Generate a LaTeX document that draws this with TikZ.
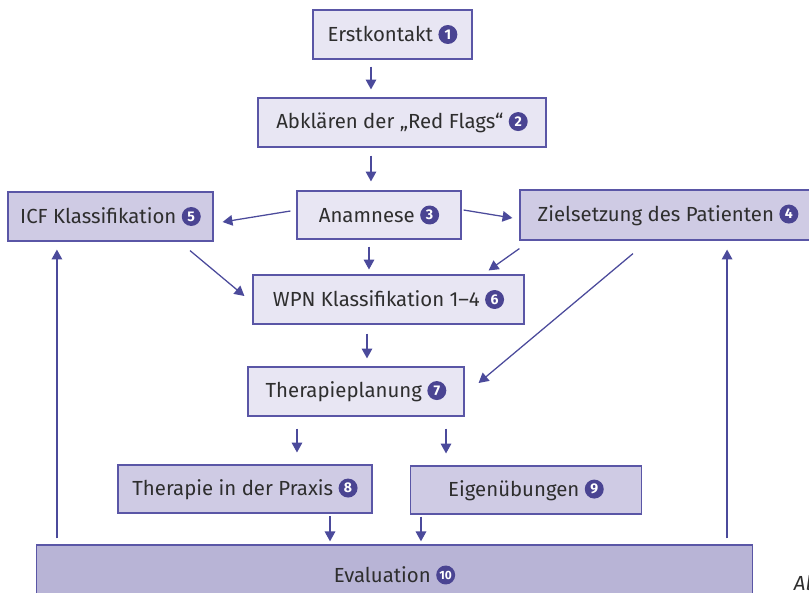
\documentclass[tikz,border=0pt]{standalone}
\usepackage{fontspec}
\setmainfont{Fira Sans}
\usetikzlibrary{arrows.meta}

\definecolor{boxlight}{HTML}{E8E6F3}
\definecolor{boxmid}{HTML}{CFCBE4}
\definecolor{boxdark}{HTML}{B8B4D6}
\definecolor{boxline}{HTML}{5A56A6}
\definecolor{arrowblue}{HTML}{4B4A9B}
\definecolor{numblue}{HTML}{4A4492}
\definecolor{textgray}{HTML}{2E2E2E}

% numbered dot behind each step
\newcommand{\stepnr}[1]{\tikz[baseline={([yshift=-5pt]c.center)}]\node[circle,fill=numblue,text=white,inner sep=0pt,minimum size=13.5pt,font=\bfseries\fontsize{10}{10}\selectfont](c){#1};}

\tikzset{
  stepbox/.style={draw=boxline, line width=0.8pt, text=textgray, font=\fontsize{14.5}{17}\selectfont, inner sep=0pt},
  light/.style={stepbox, fill=boxlight},
  mid/.style={stepbox, fill=boxmid},
  arr/.style={->, draw=arrowblue, line width=0.9pt}
}

\begin{document}
\begin{tikzpicture}[x=0.025cm, y=-0.025cm, >={Triangle[length=7pt,width=7.5pt]}]
\useasboundingbox (0,0) rectangle (809,592);

\node[light, minimum width=3.975cm, minimum height=1.225cm] (erst) at (392.5,34.5) {Erstkontakt \stepnr{1}};
\node[light, minimum width=7.2cm, minimum height=1.225cm] (abkl) at (402,122.5) {Abklären der „Red Flags“ \stepnr{2}};
\node[light, minimum width=4.1cm, minimum height=1.2cm] (anam) at (379,215) {Anamnese \stepnr{3}};
\node[mid, minimum width=5.125cm, minimum height=1.225cm] (icf) at (110.5,216.5) {ICF Klassifikation \stepnr{5}};
\node[mid, minimum width=7.4cm, minimum height=1.25cm] (ziel) at (668,215) {Zielsetzung des Patienten \stepnr{4}};
\node[light, minimum width=6.775cm, minimum height=1.225cm] (wpn) at (388.5,299.5) {WPN Klassifikation 1–4 \stepnr{6}};
\node[light, minimum width=5.4cm, minimum height=1.225cm] (plan) at (356,391.5) {Therapieplanung \stepnr{7}};
\node[mid, minimum width=6.35cm, minimum height=1.2cm] (prax) at (245,489) {Therapie in der Praxis \stepnr{8}};
\node[mid, minimum width=5.775cm, minimum height=1.2cm] (eig) at (526,490) {Eigenübungen \stepnr{9}};
\node[stepbox, fill=boxdark, minimum width=17.875cm, minimum height=1.5cm] (eval) at (394.5,575) {Evaluation \stepnr{\fontsize{8.5}{8.5}\selectfont 10}};

\node[anchor=base west, text=textgray, font=\itshape\fontsize{14.5}{17}\selectfont] (abb) at (789,590) {Ab};

% straight down
\draw[arr, shorten <=5pt, shorten >=5.7pt] ([xshift=-0.5375cm]erst.south) -- ([xshift=-0.5375cm]erst.south |- abkl.north);
\draw[arr, shorten <=5.7pt, shorten >=6.4pt] ([xshift=-0.775cm]abkl.south) -- ([xshift=-0.775cm]abkl.south |- anam.north);
\draw[arr, shorten <=5pt, shorten >=3.5pt] ([xshift=-0.25cm]anam.south) -- ([xshift=-0.25cm]anam.south |- wpn.north);
\draw[arr, shorten <=6.4pt, shorten >=5.7pt] ([xshift=-0.5375cm]wpn.south) -- ([xshift=-0.5375cm]wpn.south |- plan.north);
\draw[arr, shorten <=8.5pt, shorten >=8.5pt] ([xshift=-1.475cm]plan.south) -- ([xshift=-1.475cm]plan.south |- prax.north);
\draw[arr, shorten <=8.5pt, shorten >=8.5pt] ([xshift=2.25cm]plan.south) -- ([xshift=2.25cm]plan.south |- eig.north);
\draw[arr, shorten <=2pt, shorten >=2.2pt] ([xshift=2.125cm]prax.south) -- ([xshift=2.125cm]prax.south |- eval.north);
\draw[arr, shorten <=1.5pt, shorten >=2.2pt] ([xshift=-2.625cm]eig.south) -- ([xshift=-2.625cm]eig.south |- eval.north);

% sideways from Anamnese
\draw[arr] ([shift={(-6,-4)}]anam.west) -- ([shift={(9,5.5)}]icf.east);
\draw[arr] ([shift={(2,-5)}]anam.east) -- ([shift={(-7,3)}]ziel.west);

% into WPN and Therapieplanung
\draw[arr] ([shift={(79.5,9)}]icf.south) -- ([shift={(-8,-3.5)}]wpn.west);
\draw[arr] ([shift={(0,8)}]ziel.south west) -- ([shift={(-36,-4)}]wpn.north east);
\draw[arr] ([shift={(-35,13)}]ziel.south) -- ([shift={(14,-8.5)}]plan.east);

% back up from Evaluation
\draw[arr, shorten <=4.3pt, shorten >=5.7pt] ([xshift=-8.4375cm]eval.north) -- ([xshift=-8.4375cm]eval.north |- icf.south);
\draw[arr, shorten <=4.3pt, shorten >=6.4pt] ([xshift=8.3125cm]eval.north) -- ([xshift=8.3125cm]eval.north |- ziel.south);
\end{tikzpicture}
\end{document}
